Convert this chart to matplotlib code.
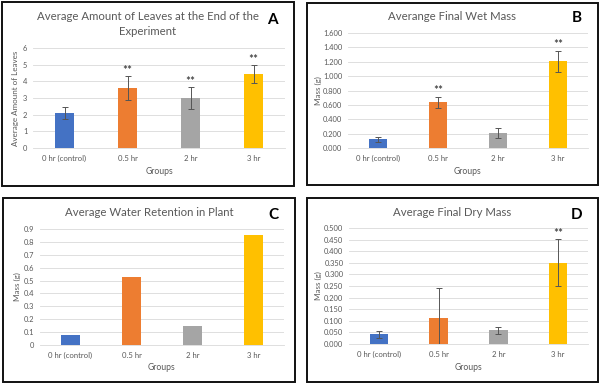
import numpy as np
import matplotlib.pyplot as plt
from matplotlib.patches import Rectangle
from matplotlib.ticker import FixedLocator, FuncFormatter

plt.rcParams['font.family'] = ['Lato', 'DejaVu Sans']

groups = ["0 hr (control)", "0.5 hr", "2 hr", "3 hr"]
colors = ["#4472C4", "#ED7D31", "#A5A5A5", "#FFC000"]

leaves = [2.1, 3.6, 3.0, 4.45]
leaves_err = [0.35, 0.7, 0.66, 0.53]
leaves_sig = [False, True, True, True]

wet = [0.12, 0.635, 0.21, 1.205]
wet_err = [0.04, 0.08, 0.07, 0.145]
wet_sig = [False, True, False, True]

water = [0.075, 0.525, 0.15, 0.855]

dry = [0.043, 0.113, 0.06, 0.35]
dry_err = [0.015, 0.127, 0.015, 0.102]
dry_sig = [False, False, False, True]

W, H = 600, 384
GREY = "#595959"

fig = plt.figure(figsize=(W / 100, H / 100), dpi=100)


def px_axes(l, t, r, b):
    return fig.add_axes([l / W, 1 - b / H, (r - l) / W, (b - t) / H])


def border(l, t, r, b):
    fig.patches.append(Rectangle((l / W, 1 - b / H), (r - l) / W, (b - t) / H,
                                 transform=fig.transFigure, fill=False,
                                 edgecolor="#111111", linewidth=1.4))


def panel(box, frame, vals, err, sig, ymax, step, fmt, title, ylabel, letter,
          title_y, letter_xy, ylabel_x, groups_y):
    ax = px_axes(*box)
    x = np.arange(len(groups))
    ax.bar(x, vals, width=0.31, color=colors, zorder=3)
    if err is not None:
        ax.errorbar(x, vals, yerr=err, fmt="none", ecolor="#555555",
                    elinewidth=0.7, capsize=2, capthick=0.7, zorder=4)
        for xi, v, e, s in zip(x, vals, err, sig):
            if s:
                ax.text(xi, v + e + ymax * 0.005, "**", ha="center", va="bottom",
                        fontsize=8.5, color="#222222")
    ax.set_xlim(-0.5, len(groups) - 0.5)
    ax.set_ylim(0, ymax)
    ticks = np.arange(0, ymax + step / 2, step)
    ax.yaxis.set_major_locator(FixedLocator(ticks))
    ax.yaxis.set_major_formatter(FuncFormatter(fmt))
    ax.set_xticks(x)
    ax.set_xticklabels(groups)
    ax.tick_params(axis="x", length=0, labelsize=5.6, colors=GREY, pad=5)
    ax.tick_params(axis="y", length=0, labelsize=5.4, colors=GREY, pad=4)
    ax.grid(axis="y", color="#D9D9D9", linewidth=0.6, zorder=0)
    for s in ["top", "right", "left"]:
        ax.spines[s].set_visible(False)
    ax.spines["bottom"].set_color("#D9D9D9")
    ax.spines["bottom"].set_linewidth(0.6)

    l, t, r, b = frame
    border(l, t, r, b)
    fx = (l + r) / 2
    cx = (box[0] + box[2]) / 2
    fig.text(fx / W, 1 - title_y / H, title, ha="center", va="center",
             fontsize=8.2, color=GREY, linespacing=1.4)
    fig.text(letter_xy[0] / W, 1 - letter_xy[1] / H, letter, ha="center",
             va="center", fontsize=11, fontweight="bold", color="black")
    fig.text(ylabel_x / W, 1 - (box[1] + box[3]) / 2 / H, ylabel, rotation=90,
             ha="center", va="center", fontsize=5.8, color=GREY)
    fig.text(cx / W, 1 - groups_y / H, "Groups", ha="center", va="center",
             fontsize=6.2, color=GREY)
    return ax


int_fmt = lambda v, p: f"{v:.0f}"
f3 = lambda v, p: f"{v:.3f}"
f1 = lambda v, p: "0" if v == 0 else f"{v:.1f}"

panel((33, 48, 285, 148), (2, 2, 294, 186), leaves, leaves_err, leaves_sig,
      6, 1, int_fmt, "Average Amount of Leaves at the End of the\nExperiment",
      "Average Amount of Leaves", "A", 24, (272, 20), 16, 171)

panel((348, 33, 588, 148), (307, 3, 598, 185), wet, wet_err, wet_sig,
      1.6, 0.2, f3, "Averange Final Wet Mass", "Mass (g)", "B",
      16, (577, 18), 318, 171)

panel((40, 229, 284, 345), (3, 198, 295, 382), water, None, None,
      0.9, 0.1, f1, "Average Water Retention in Plant", "Mass (g)", "C",
      213, (273, 215), 17, 368)

panel((349, 228, 588, 344), (307, 198, 598, 382), dry, dry_err, dry_sig,
      0.5, 0.05, f3, "Average Final Dry Mass", "Mass (g)", "D",
      212, (577, 215), 318, 367)

fig.savefig("out.png", dpi=100, facecolor="white")
